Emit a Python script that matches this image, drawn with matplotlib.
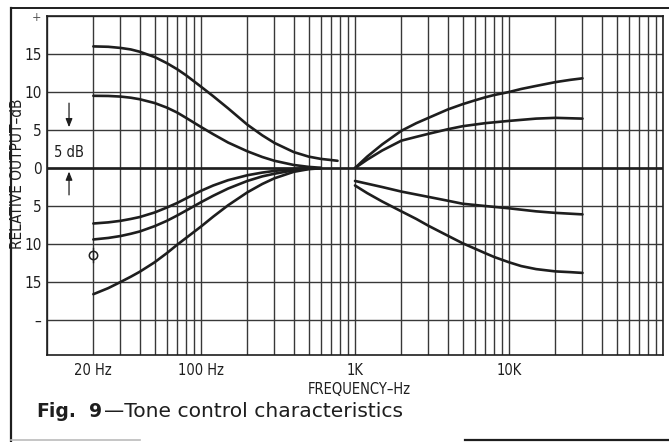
import matplotlib
matplotlib.use("Agg")
import matplotlib.pyplot as plt
from matplotlib.ticker import FixedLocator, NullFormatter, LogLocator
from matplotlib.lines import Line2D

# ---- data ----
bass_boost_max_f = [20, 25, 30, 35, 40, 50, 60, 70, 80, 100, 120, 150, 200, 250, 300, 400, 500, 600, 700, 770]
bass_boost_max_db = [16.0, 15.95, 15.8, 15.6, 15.3, 14.6, 13.8, 13.0, 12.2, 10.7, 9.45, 7.85, 5.7, 4.3, 3.3, 2.1, 1.5, 1.2, 1.05, 0.95]

bass_boost_half_f = [20, 25, 30, 35, 40, 50, 60, 70, 80, 100, 120, 150, 200, 250, 300, 400, 500, 600]
bass_boost_half_db = [9.5, 9.48, 9.4, 9.25, 9.05, 8.55, 7.95, 7.3, 6.6, 5.4, 4.45, 3.35, 2.2, 1.45, 0.95, 0.4, 0.15, 0.03]

bass_cut_half_f = [20, 25, 30, 35, 40, 50, 60, 70, 80, 100, 120, 150, 200, 250, 300, 400, 500]
bass_cut_half_db = [-7.3, -7.15, -6.95, -6.7, -6.45, -5.85, -5.2, -4.6, -4.0, -3.0, -2.3, -1.6, -0.95, -0.6, -0.38, -0.12, -0.02]

bass_cut_mid_f = [20, 25, 30, 35, 40, 50, 60, 70, 80, 100, 120, 150, 200, 250, 300, 400, 500, 600]
bass_cut_mid_db = [-9.4, -9.2, -8.95, -8.65, -8.35, -7.65, -6.95, -6.25, -5.6, -4.5, -3.65, -2.7, -1.7, -1.1, -0.75, -0.3, -0.1, -0.02]

bass_cut_max_f = [20, 25, 30, 35, 40, 50, 60, 70, 80, 100, 120, 150, 200, 250, 300, 400, 500, 600]
bass_cut_max_db = [-16.6, -15.8, -15.0, -14.3, -13.65, -12.4, -11.2, -10.1, -9.2, -7.7, -6.4, -4.9, -3.2, -2.1, -1.35, -0.5, -0.15, -0.03]

treble_boost_max_f = [1000, 1200, 1500, 2000, 2500, 3000, 4000, 5000, 6000, 7000, 8000, 10000, 12000, 15000, 20000, 25000, 30000]
treble_boost_max_db = [0.0, 1.5, 3.1, 4.9, 5.9, 6.6, 7.7, 8.4, 8.9, 9.3, 9.6, 10.0, 10.4, 10.8, 11.3, 11.6, 11.8]

treble_boost_half_f = [1000, 1200, 1500, 2000, 2500, 3000, 4000, 5000, 7000, 10000, 15000, 20000, 30000]
treble_boost_half_db = [0.0, 1.1, 2.3, 3.6, 4.1, 4.5, 5.1, 5.5, 5.9, 6.2, 6.5, 6.6, 6.5]

treble_cut_half_f = [1000, 1500, 2000, 3000, 4000, 5000, 7000, 10000, 15000, 20000, 30000]
treble_cut_half_db = [-1.7, -2.5, -3.1, -3.8, -4.3, -4.7, -5.0, -5.3, -5.7, -5.9, -6.1]

treble_cut_max_f = [1000, 1200, 1500, 2000, 2500, 3000, 4000, 5000, 6000, 7000, 8000, 10000, 12000, 15000, 20000, 25000, 30000]
treble_cut_max_db = [-2.3, -3.3, -4.4, -5.7, -6.7, -7.6, -8.9, -9.9, -10.6, -11.2, -11.7, -12.4, -12.9, -13.3, -13.6, -13.7, -13.8]

flat_f = [10, 100000]
flat_db = [0, 0]

y_ticks = [20, 15, 10, 5, 0, -5, -10, -15, -20]
y_tick_labels = ["+", "15", "10", "5", "0", "5", "10", "15", "\u2013"]
x_ticks = [20, 100, 1000, 10000]
x_tick_labels = ["20 Hz", "100 Hz", "1K", "10K"]

curves = [
    (bass_boost_max_f, bass_boost_max_db),
    (bass_boost_half_f, bass_boost_half_db),
    (bass_cut_half_f, bass_cut_half_db),
    (bass_cut_mid_f, bass_cut_mid_db),
    (bass_cut_max_f, bass_cut_max_db),
    (treble_boost_max_f, treble_boost_max_db),
    (treble_boost_half_f, treble_boost_half_db),
    (treble_cut_half_f, treble_cut_half_db),
    (treble_cut_max_f, treble_cut_max_db),
]

NARROW = ["DejaVu Sans"]
INK = "#1e1e1e"
GRID = "#383838"

W, H = 669, 442
fig = plt.figure(figsize=(W / 100, H / 100), dpi=100)
fig.patch.set_facecolor("white")

ax_l, ax_r, ax_t, ax_b = 47, 663, 16, 355
ax = fig.add_axes([ax_l / W, 1 - ax_b / H, (ax_r - ax_l) / W, (ax_b - ax_t) / H])
ax.set_xscale("log")
ax.set_xlim(10, 100000)
ax.set_ylim(-24.6, 20)

# ticks / grid
ax.xaxis.set_major_locator(FixedLocator(x_ticks))
ax.xaxis.set_minor_locator(LogLocator(base=10, subs=[1, 2, 3, 4, 5, 6, 7, 8, 9], numticks=60))
ax.xaxis.set_minor_formatter(NullFormatter())
ax.set_xticklabels(x_tick_labels, family=NARROW, stretch="condensed", fontsize=10.5, color=INK)
ax.yaxis.set_major_locator(FixedLocator(y_ticks))
ax.set_yticklabels(y_tick_labels, family=NARROW, stretch="condensed", fontsize=11, color=INK)
for lab in ax.get_yticklabels():
    if lab.get_text() == "+":
        lab.set_fontsize(9)
        lab.set_color("#555555")
ax.grid(True, which="both", axis="x", color=GRID, lw=1.0)
ax.grid(True, which="major", axis="y", color=GRID, lw=1.0)
ax.set_axisbelow(True)
ax.tick_params(axis="both", which="both", length=0)
ax.tick_params(axis="x", pad=6)
ax.tick_params(axis="y", pad=4)
for s in ax.spines.values():
    s.set_color(INK)
    s.set_linewidth(1.2)

# flat line
ax.plot(flat_f, flat_db, color=INK, lw=1.9, solid_capstyle="butt", zorder=3)
# response curves
for f, d in curves:
    ax.plot(f, d, color=INK, lw=1.9, solid_capstyle="round", solid_joinstyle="round", zorder=4)

# 5 dB annotation
ax.annotate("", xy=(13.9, 5.0), xytext=(13.9, 8.9),
            arrowprops=dict(arrowstyle="-|>,head_length=0.5,head_width=0.2", color=INK, lw=0.9))
ax.annotate("", xy=(13.9, -0.1), xytext=(13.9, -3.9),
            arrowprops=dict(arrowstyle="-|>,head_length=0.5,head_width=0.2", color=INK, lw=0.9))
ax.text(13.9, 2.0, "5 dB", family=NARROW, stretch="condensed", fontsize=10.5, color=INK,
        ha="center", va="center")

# small mark near 20 Hz
ax.plot([20], [-11.4], marker="o", ms=6, mfc="none", mec=INK, mew=1.1, zorder=5)
ax.plot([20, 20], [-10.5, -12.3], color=INK, lw=1.0, zorder=5)

# axis labels
fig.text(359 / W, 1 - 390 / H, "FREQUENCY\u2013Hz", family=NARROW, stretch="condensed", fontsize=10.5,
         color=INK, ha="center", va="center")
fig.text(18 / W, 1 - 174 / H, "RELATIVE OUTPUT\u2013dB", family=NARROW, stretch="condensed",
         fontsize=11, color=INK, ha="center", va="center", rotation=90)

# caption
cap_font = ["DejaVu Sans"]
fig.text(36 / W, 1 - 417 / H, "Fig.", family=cap_font, fontsize=13.5, fontweight="bold",
         color=INK, ha="left", va="baseline")
fig.text(89 / W, 1 - 417 / H, "9", family=cap_font, fontsize=13.5, fontweight="bold",
         color=INK, ha="left", va="baseline")
fig.text(104 / W, 1 - 417 / H, "\u2014Tone control characteristics", family=cap_font,
         fontsize=14.6, color=INK, ha="left", va="baseline")

# outer frame of the printed figure
fig.add_artist(Line2D([11 / W, 11 / W], [0, 1 - 8 / H], transform=fig.transFigure, color=INK, lw=1.6))
fig.add_artist(Line2D([11 / W, 1], [1 - 8 / H, 1 - 8 / H], transform=fig.transFigure, color=INK, lw=1.4))
fig.add_artist(Line2D([465 / W, 1], [1 - 440 / H, 1 - 440 / H], transform=fig.transFigure, color=INK, lw=1.6))
fig.add_artist(Line2D([11 / W, 140 / W], [1 - 440 / H, 1 - 440 / H], transform=fig.transFigure,
                      color="#bbbbbb", lw=1.2))

fig.savefig("out.png", dpi=100, facecolor="white")
